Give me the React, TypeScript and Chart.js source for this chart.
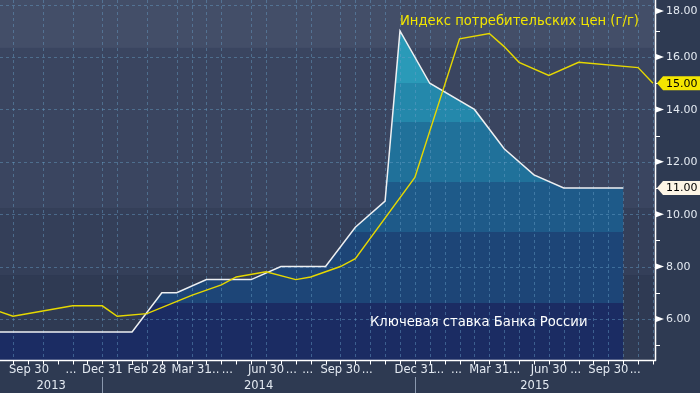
import React, { useEffect, useRef } from "react";
import { Chart, registerables } from "chart.js";

Chart.register(...registerables);

// Observations are equally spaced (Bloomberg style); first array entry is observation -1.
const FIRST_INDEX = -1;

// Ключевая ставка Банка России, %
const keyRate: (number | null)[] = [
  5.5, // -1
  5.5, 5.5, 5.5, 5.5, 5.5, 5.5, 5.5, 5.5, 5.5, // 0-8
  null, 7.0, 7.0, null, 7.5, 7.5, 7.5, 7.5, null, 8.0, // 9-18
  8.0, 8.0, 8.0, null, 9.5, null, 10.5, 17.0, null, 15.0, // 19-28
  null, null, 14.0, null, 12.5, null, 11.5, null, 11.0, 11.0, // 29-38
  11.0, 11.0, 11.0, null, null, // 39-43
];

// Индекс потребительских цен (г/г), %
const cpi: (number | null)[] = [
  6.3, // -1
  6.1, null, 6.3, null, 6.5, 6.5, 6.5, 6.1, null, 6.2, // 0-9
  null, null, 6.9, null, 7.3, 7.6, null, 7.8, null, 7.5, // 10-19
  7.6, null, 8.0, 8.3, null, null, null, 11.4, null, null, // 20-29
  16.7, null, 16.9, 16.4, 15.8, null, 15.3, null, 15.8, null, // 30-39
  null, null, 15.6, 15.0, // 40-43
];

// x tick labels: [observation position, text]
const xTickLabels: [number, string][] = [
  [0, "Sep 30"], [3.9, "..."], [6, "Dec 31"], [9, "Feb 28"], [12, "Mar 31"],
  [13.5, "..."], [14.4, "..."], [17, "Jun 30"], [18.7, "..."], [19.8, "..."],
  [22, "Sep 30"], [23.8, "..."], [27, "Dec 31"], [28.6, "..."], [29.8, "..."],
  [32, "Mar 31"], [33.7, "..."], [36, "Jun 30"], [37.8, "..."], [40, "Sep 30"],
  [41.8, "..."],
];
const years = ["2013", "2014", "2015"];
const yearBreaks = [6, 27]; // observations at Dec 31
const xGridSkip = [1, 3, 5, 8, 10, 15, 18, 21];
const lastObs = 43;

const yMin = 4.43;
const yMax = 18.18;
const yTicks = [5, 6, 7, 8, 9, 10, 11, 12, 13, 14, 15, 16, 17, 18];

const cpiLabel = "Индекс потребительских цен (г/г)";
const rateLabel = "Ключевая ставка Банка России";

const FONT = '"DejaVu Sans", sans-serif';
const YELLOW = "#f2e600";
const LINE_YELLOW = "#e6d800";
const WHITE = "#eef0f2";

function lastValue(arr: (number | null)[]) {
  for (let i = arr.length - 1; i >= 0; i--) if (arr[i] != null) return arr[i] as number;
  return null;
}

const bbgPlugin = {
  id: "bbg",
  beforeDraw(chart: any) {
    const { ctx, width, height } = chart;
    ctx.save();
    ctx.fillStyle = "#2e3a52";
    ctx.fillRect(0, 0, width, height);
    ctx.restore();
  },
  beforeDatasetsDraw(chart: any) {
    const { ctx, chartArea: a } = chart;
    const h = a.bottom - a.top;
    const bands: [number, number, string][] = [
      [0, 0.133, "#434e68"],
      [0.133, 0.578, "#3a4560"],
      [0.578, 0.764, "#343f59"],
      [0.764, 1, "#2f3a53"],
    ];
    ctx.save();
    for (const [f0, f1, c] of bands) {
      ctx.fillStyle = c;
      ctx.fillRect(a.left, a.top + f0 * h, a.right - a.left, (f1 - f0) * h + 0.5);
    }
    ctx.restore();
  },
  afterDatasetDraw(chart: any, args: any) {
    if (args.index !== 0) return;
    const { ctx, chartArea: a, scales } = chart;
    const xs = scales.x;
    const ys = scales.y;
    ctx.save();
    ctx.strokeStyle = "rgba(105,160,200,0.45)";
    ctx.lineWidth = 1;
    ctx.setLineDash([3, 3]);
    for (let i = 0; i <= lastObs; i++) {
      if (xGridSkip.includes(i)) continue;
      const x = Math.round(xs.getPixelForValue(i)) + 0.5;
      ctx.beginPath();
      ctx.moveTo(x, a.top);
      ctx.lineTo(x, a.bottom);
      ctx.stroke();
    }
    for (const v of yTicks) {
      if (v % 2 !== 0) continue;
      const y = Math.round(ys.getPixelForValue(v)) + 0.5;
      ctx.beginPath();
      ctx.moveTo(a.left, y);
      ctx.lineTo(a.right, y);
      ctx.stroke();
    }
    ctx.restore();
  },
  afterDraw(chart: any) {
    const { ctx, chartArea: a, scales, width, height } = chart;
    const xs = scales.x;
    const ys = scales.y;
    ctx.save();
    // axis lines
    ctx.strokeStyle = "#ffffff";
    ctx.lineWidth = 1.5;
    ctx.beginPath();
    ctx.moveTo(a.left, a.bottom + 0.5);
    ctx.lineTo(a.right + 1, a.bottom + 0.5);
    ctx.moveTo(a.right + 0.5, a.top);
    ctx.lineTo(a.right + 0.5, a.bottom + 1);
    ctx.stroke();

    // x ticks
    ctx.lineWidth = 1;
    for (let i = 0; i <= lastObs; i++) {
      const x = Math.round(xs.getPixelForValue(i)) + 0.5;
      ctx.beginPath();
      ctx.moveTo(x, a.bottom);
      ctx.lineTo(x, a.bottom + 4.5);
      ctx.stroke();
    }
    // x labels
    ctx.font = `11.5px ${FONT}`;
    ctx.fillStyle = "#e4eaf2";
    ctx.textBaseline = "middle";
    ctx.textAlign = "left";
    for (const [pos, txt] of xTickLabels) {
      const w = ctx.measureText(txt).width;
      let left = xs.getPixelForValue(pos) - w / 2;
      left = Math.max(left, a.left + 9);
      ctx.fillText(txt, left, a.bottom + 10.5);
    }
    // year separators
    const bounds = [a.left, ...yearBreaks.map((b) => xs.getPixelForValue(b)), a.right];
    ctx.strokeStyle = "#8a98ae";
    for (const b of yearBreaks) {
      const x = Math.round(xs.getPixelForValue(b)) + 0.5;
      ctx.beginPath();
      ctx.moveTo(x, a.bottom + 17);
      ctx.lineTo(x, height);
      ctx.stroke();
    }
    ctx.textAlign = "center";
    years.forEach((yr, k) => {
      ctx.fillText(yr, (bounds[k] + bounds[k + 1]) / 2, a.bottom + 26);
    });

    // y ticks
    ctx.font = `11px ${FONT}`;
    ctx.strokeStyle = "#ffffff";
    ctx.fillStyle = "#ffffff";
    ctx.textAlign = "left";
    for (const v of yTicks) {
      const y = ys.getPixelForValue(v);
      if (v % 2 !== 0) {
        ctx.beginPath();
        ctx.moveTo(a.right, Math.round(y) + 0.5);
        ctx.lineTo(a.right + 5, Math.round(y) + 0.5);
        ctx.stroke();
      } else {
        const yy = Math.max(y, a.top + 11);
        ctx.fillStyle = "#ffffff";
        ctx.beginPath();
        ctx.moveTo(a.right + 1, yy - 3);
        ctx.lineTo(a.right + 9, yy);
        ctx.lineTo(a.right + 1, yy + 3);
        ctx.closePath();
        ctx.fill();
        ctx.fillStyle = "#e4eaf2";
        ctx.fillText(v.toFixed(2), a.right + 11, yy + 0.5);
      }
    }

    // last value badges
    const badges: [(number | null)[], string][] = [
      [cpi, "#f4e600"],
      [keyRate, "#fdf5e6"],
    ];
    for (const [arr, col] of badges) {
      const v = lastValue(arr);
      if (v == null) continue;
      const y = ys.getPixelForValue(v);
      ctx.fillStyle = col;
      ctx.beginPath();
      ctx.moveTo(a.right + 2, y);
      ctx.lineTo(a.right + 8, y - 7);
      ctx.lineTo(width, y - 7);
      ctx.lineTo(width, y + 7);
      ctx.lineTo(a.right + 8, y + 7);
      ctx.closePath();
      ctx.fill();
      ctx.fillStyle = "#000000";
      ctx.fillText(v.toFixed(2), a.right + 11, y + 0.5);
    }

    // series annotations
    ctx.font = `13.2px ${FONT}`;
    ctx.fillStyle = YELLOW;
    ctx.fillText(cpiLabel, a.left + 400, a.top + 22);
    ctx.fillStyle = "#ffffff";
    ctx.fillText(rateLabel, a.left + 370, a.top + 323);
    ctx.restore();
  },
};

function fillGradient(ctx: any) {
  const chart = ctx.chart;
  const a = chart.chartArea;
  if (!a) return "#1d4577";
  const g = chart.ctx.createLinearGradient(0, a.top, 0, a.bottom);
  const stops: [number, number, string][] = [
    [0, 0.231, "#2a9ab8"],
    [0.231, 0.339, "#2488ab"],
    [0.339, 0.506, "#20719a"],
    [0.506, 0.645, "#1e5a89"],
    [0.645, 0.842, "#1d4577"],
    [0.842, 1, "#1b2c63"],
  ];
  for (const [s0, s1, c] of stops) {
    g.addColorStop(s0, c);
    g.addColorStop(s1, c);
  }
  return g;
}

export default function App() {
  const ref = useRef<HTMLCanvasElement | null>(null);

  useEffect(() => {
    document.body.style.margin = "0";
    const canvas = ref.current;
    if (!canvas) return;
    const toPts = (arr: (number | null)[]) => arr.map((v, i) => ({ x: i + FIRST_INDEX, y: v }));
    const chart = new Chart(canvas, {
      type: "line",
      data: {
        datasets: [
          {
            label: "fill",
            data: toPts(keyRate) as any,
            borderWidth: 0,
            borderColor: "rgba(0,0,0,0)",
            backgroundColor: fillGradient as any,
            fill: "start",
            pointRadius: 0,
            spanGaps: true,
            order: 3,
          },
          {
            label: cpiLabel,
            data: toPts(cpi) as any,
            borderColor: LINE_YELLOW,
            borderWidth: 1.4,
            fill: false,
            pointRadius: 0,
            spanGaps: true,
            order: 1,
          },
          {
            label: rateLabel,
            data: toPts(keyRate) as any,
            borderColor: WHITE,
            borderWidth: 1.5,
            fill: false,
            pointRadius: 0,
            spanGaps: true,
            order: 2,
          },
        ],
      },
      options: {
        animation: false,
        responsive: false,
        devicePixelRatio: 1,
        layout: { padding: { left: 0, top: 0, right: 45, bottom: 33 } },
        scales: {
          x: { type: "linear", min: -0.873, max: 43.134, display: false },
          y: { type: "linear", min: yMin, max: yMax, display: false },
        },
        plugins: { legend: { display: false }, tooltip: { enabled: false } },
        elements: { line: { tension: 0 } },
      },
      plugins: [bbgPlugin as any],
    });
    return () => chart.destroy();
  }, []);

  return (
    <div style={{ width: 700, height: 393 }}>
      <canvas ref={ref} width={700} height={393} style={{ display: "block" }} />
    </div>
  );
}
